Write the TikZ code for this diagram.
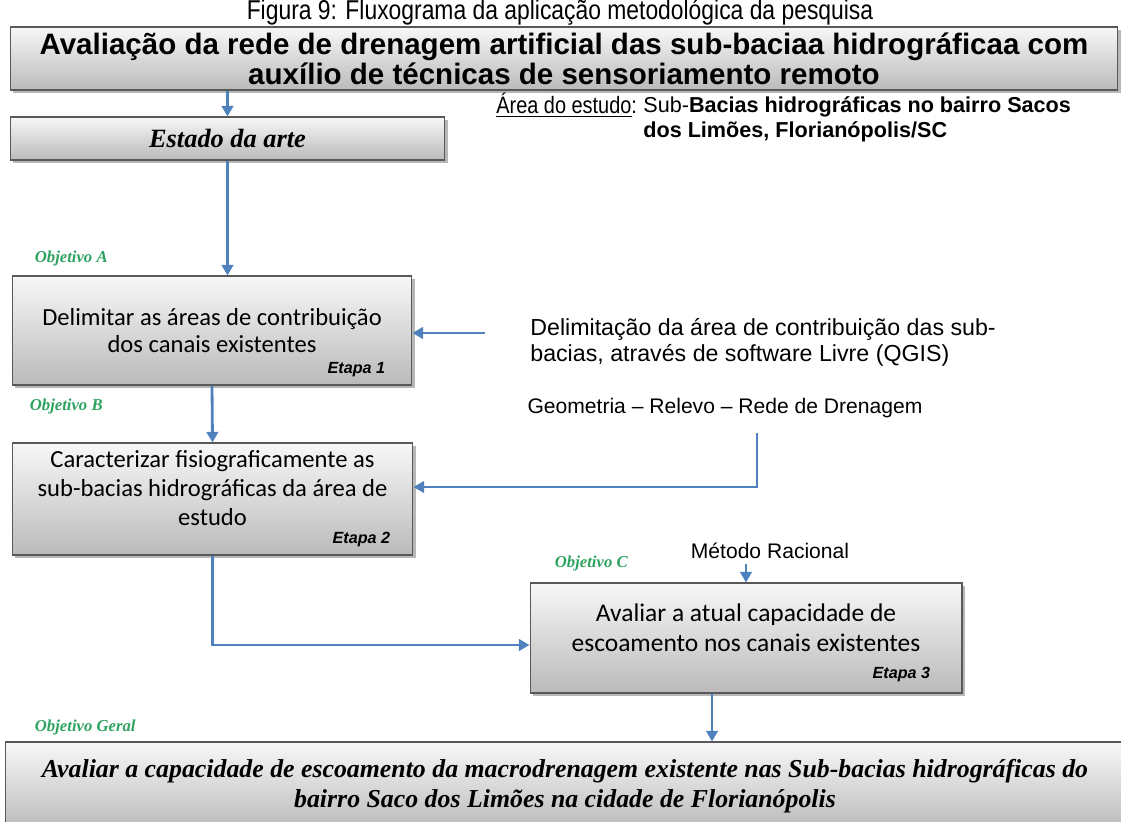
\documentclass[tikz,border=0pt]{standalone}
\usepackage{fontspec}
\setmainfont{Liberation Serif}
\setsansfont{Liberation Sans}
\newfontfamily\calibri{Carlito}
\newfontfamily\narrowsans[FakeStretch=0.84]{Liberation Sans}
\usetikzlibrary{arrows.meta,shadows,positioning}

\definecolor{flowblue}{RGB}{79,129,189}
\definecolor{objgreen}{RGB}{46,163,96}

\tikzset{
  box/.style={draw=black!65, line width=0.6pt, top color=black!3, bottom color=black!27,
    drop shadow={shadow xshift=1.5pt, shadow yshift=-1.5pt, opacity=0.4, fill=black!70},
    inner sep=0pt, align=center},
  flow/.style={draw=flowblue, line width=1.6pt, -{Triangle[length=6pt,width=6.5pt]}},
  objlabel/.style={font=\fontsize{9.5}{11}\selectfont\bfseries\itshape, text=objgreen, inner sep=0pt},
  etapa/.style={font=\sffamily\fontsize{9.2}{11}\selectfont\bfseries\itshape, inner sep=0pt},
  note/.style={font=\sffamily\fontsize{12}{14.5}\selectfont, inner sep=0pt, align=left}
}

\begin{document}
\begin{tikzpicture}[x=0.02cm, y=-0.02cm]
  \useasboundingbox (0,0) rectangle (1121,821);

  % Title
  \node[font=\narrowsans\fontsize{15.5}{17}\selectfont, inner sep=0pt] (title) at (560,12)
    {Figura 9: Fluxograma da aplicação metodológica da pesquisa};

  % Boxes
  \node[box, minimum width=22.16cm, minimum height=1.26cm,
        font=\sffamily\fontsize{16.8}{15.6}\selectfont\bfseries] (head) at (564,58.5)
    {Avaliação da rede de drenagem artificial das sub-baciaa hidrográficaa com\\
     auxílio de técnicas de sensoriamento remoto};
  \node[box, minimum width=8.7cm, minimum height=0.86cm,
        font=\fontsize{15}{17}\selectfont\bfseries\itshape] (arte) at (227.5,138.5)
    {Estado da arte};
  \node[box, minimum width=8cm, minimum height=2.18cm,
        font=\calibri\fontsize{14}{15.5}\selectfont] (delim) at (212,330.5)
    {Delimitar as áreas de contribuição\\dos canais existentes};
  \node[box, minimum width=8.02cm, minimum height=2.24cm, text depth=12pt,
        font=\calibri\fontsize{14}{16.5}\selectfont] (fisio) at (212.5,499)
    {Caracterizar fisiograficamente as\\sub-bacias hidrográficas da área de\\estudo};
  \node[box, minimum width=8.64cm, minimum height=2.2cm, text depth=12pt,
        font=\calibri\fontsize{14.5}{17}\selectfont] (escoa) at (746,638)
    {Avaliar a atual capacidade de\\escoamento nos canais existentes};
  \node[box, minimum width=22.4cm, minimum height=1.76cm,
        font=\fontsize{14.7}{17}\selectfont\bfseries\itshape] (geral) at (565,786)
    {Avaliar a capacidade de escoamento da macrodrenagem existente nas Sub-bacias hidrográficas do\\
     bairro Saco dos Limões na cidade de Florianópolis};

  % Etapas
  \node[etapa, anchor=base east] (e1) at ([xshift=-0.54cm,yshift=0.25cm]delim.south east) {Etapa 1};
  \node[etapa, anchor=base east] (e2) at ([xshift=-0.46cm,yshift=0.25cm]fisio.south east) {Etapa 2};
  \node[etapa, anchor=base east] (e3) at ([xshift=-0.64cm,yshift=0.3cm]escoa.south east) {Etapa 3};

  % Objetivos
  \node[objlabel, anchor=south west] (objA) at ([xshift=0.46cm,yshift=0.18cm]delim.north west) {Objetivo A};
  \node[objlabel, anchor=south west] (objB) at ([xshift=0.36cm,yshift=0.56cm]fisio.north west) {Objetivo B};
  \node[objlabel, anchor=south west] (objC) at ([xshift=0.5cm,yshift=0.22cm]escoa.north west) {Objetivo C};
  \node[objlabel, anchor=south west] (objG) at ([xshift=0.6cm,yshift=0.12cm]geral.north west) {Objetivo Geral};

  % Side notes
  \node[font=\narrowsans\fontsize{13.5}{15}\selectfont, inner sep=0pt, anchor=west] (area) at (496,105)
    {\underline{Área do estudo}:};
  \node[note, anchor=north west, font=\sffamily\fontsize{12.3}{14.5}\selectfont] (sacos) at (643,96)
    {Sub-\textbf{Bacias hidrográficas no bairro Sacos}\\\textbf{dos Limões, Florianópolis/SC}};
  \node[note, anchor=west, font=\sffamily\fontsize{13.2}{14.8}\selectfont] (qgis) at (530,342)
    {Delimitação da área de contribuição das sub-\\bacias, através de software Livre (QGIS)};
  \node[note] (geo) at (725,408) {Geometria -- Relevo -- Rede de Drenagem};
  \node[note] (metodo) at (770,551) {Método Racional};

  \coordinate (qgisin) at (485,333);

  % Connectors
  \draw[flow] (head.south -| arte.north) -- (arte.north);
  \draw[flow] (arte.south) -- (arte.south |- delim.north);
  \draw[flow] (delim.south) -- (fisio.north);
  \draw[flow] (qgisin) -- (qgisin -| delim.east);
  \draw[flow] ([xshift=0.64cm,yshift=-0.3cm]geo.south) |- ([yshift=0.24cm]fisio.east);
  \draw[flow] (fisio.south) |- ([yshift=-0.14cm]escoa.west);
  \draw[flow] (escoa.north |- metodo.south) ++(0,5) -- (escoa.north);
  \draw[flow] ([xshift=-0.68cm]escoa.south) -- ([xshift=-0.68cm]escoa.south |- geral.north);
\end{tikzpicture}
\end{document}
